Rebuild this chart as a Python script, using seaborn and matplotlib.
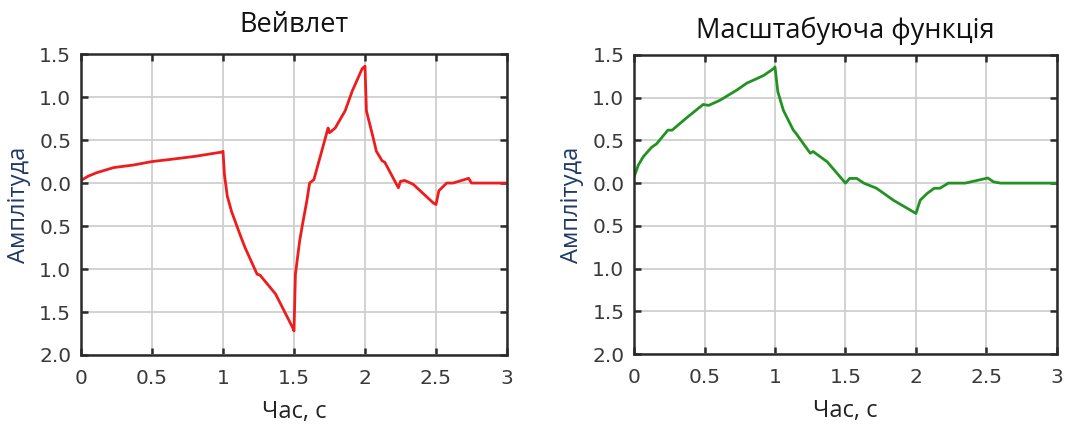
import matplotlib
matplotlib.use("Agg")
import matplotlib.pyplot as plt
import seaborn as sns
import pandas as pd

# Wavelet (psi) samples: time, amplitude
wavelet_t = [0.0, 0.05, 0.11, 0.23, 0.37, 0.5, 0.63, 0.8, 0.99, 1.0,
             1.01, 1.03, 1.06, 1.12, 1.155, 1.24, 1.26, 1.37, 1.49, 1.5,
             1.51, 1.54, 1.56, 1.59, 1.61, 1.64, 1.74, 1.75, 1.79, 1.86,
             1.91, 1.98, 2.0, 2.01, 2.06, 2.08, 2.12, 2.14, 2.235, 2.25,
             2.28, 2.34, 2.48, 2.5, 2.52, 2.575, 2.62, 2.68, 2.73, 2.75,
             3.0]
wavelet_v = [0.03, 0.08, 0.12, 0.18, 0.21, 0.25, 0.275, 0.31, 0.36, 0.37,
             0.1, -0.15, -0.33, -0.6, -0.75, -1.06, -1.07, -1.29, -1.68, -1.72,
             -1.06, -0.67, -0.48, -0.21, 0.0, 0.04, 0.64, 0.585, 0.64, 0.84,
             1.07, 1.33, 1.36, 0.84, 0.51, 0.37, 0.26, 0.24, -0.055, 0.02,
             0.03, -0.015, -0.23, -0.25, -0.09, 0.0, 0.0, 0.03, 0.055, 0.0,
             0.0]

# Scaling function (phi) samples: time, amplitude
scaling_t = [0.0, 0.03, 0.066, 0.125, 0.16, 0.24, 0.27, 0.37, 0.49, 0.53,
             0.61, 0.73, 0.8, 0.92, 0.99, 1.0, 1.02, 1.06, 1.13, 1.15,
             1.25, 1.27, 1.37, 1.5, 1.53, 1.58, 1.63, 1.72, 1.84, 2.0,
             2.03, 2.08, 2.13, 2.17, 2.23, 2.35, 2.51, 2.55, 2.6, 3.0]
scaling_v = [0.07, 0.21, 0.31, 0.42, 0.46, 0.62, 0.62, 0.76, 0.92, 0.91,
             0.97, 1.09, 1.17, 1.26, 1.34, 1.36, 1.07, 0.85, 0.62, 0.58,
             0.35, 0.37, 0.25, 0.0, 0.055, 0.055, 0.0, -0.06, -0.2, -0.355,
             -0.2, -0.12, -0.06, -0.06, 0.0, 0.0, 0.06, 0.015, 0.0, 0.0]

x_ticks = [0, 0.5, 1, 1.5, 2, 2.5, 3]
x_tick_labels = ["0", "0.5", "1", "1.5", "2", "2.5", "3"]
y_ticks = [1.5, 1.0, 0.5, 0.0, -0.5, -1.0, -1.5, -2.0]
y_tick_labels = ["1.5", "1.0", "0.5", "0.0", "0.5", "1.0", "1.5", "2.0"]

titles = ["Вейвлет", "Масштабуюча функція"]
x_label = "Час, с"
y_label = "Амплітуда"

sns.set_theme(style="whitegrid")
plt.rcParams["font.family"] = ["DejaVu Sans"]

fig = plt.figure(figsize=(10.73, 4.26), dpi=100)
ax_w = fig.add_axes([0.0755, 0.1667, 0.397, 0.7063])
ax_s = fig.add_axes([0.5909, 0.169, 0.3941, 0.702])

series = [
    (ax_w, wavelet_t, wavelet_v, "#ee1c1c", titles[0], 16),
    (ax_s, scaling_t, scaling_v, "#229322", titles[1], 12),
]

text_font = ["Open Sans", "DejaVu Sans"]

for ax, t, v, color, title, title_pad in series:
    df = pd.DataFrame({"t": t, "v": v})
    sns.lineplot(data=df, x="t", y="v", ax=ax, color=color, linewidth=2.0,
                 sort=False, estimator=None)
    ax.set_xlim(0, 3)
    ax.set_ylim(-2.0, 1.5)
    ax.set_xticks(x_ticks)
    ax.set_xticklabels(x_tick_labels)
    ax.set_yticks(y_ticks)
    ax.set_yticklabels(y_tick_labels)
    ax.grid(True, color="#cfcfcf", linewidth=1.3)
    ax.set_facecolor("white")
    for sp in ax.spines.values():
        sp.set_visible(True)
        sp.set_color("#2b2b2b")
        sp.set_linewidth(1.8)
    ax.tick_params(axis="both", which="major", direction="in", length=5,
                   width=1.8, color="#2b2b2b", labelsize=14.5,
                   labelcolor="#3a3a3a", top=True, right=True,
                   bottom=True, left=True)
    ax.tick_params(axis="x", pad=10)
    ax.tick_params(axis="y", pad=7)
    ax.set_title(title, fontsize=19.5, family=text_font,
                 color="#111111", pad=title_pad)
    ax.set_xlabel(x_label, fontsize=17, family=text_font,
                  color="#222222", labelpad=9)
    ax.set_ylabel(y_label, fontsize=17, family=text_font,
                  color="#1f3a68", labelpad=6)

fig.savefig("out.png", dpi=100, facecolor="white")
